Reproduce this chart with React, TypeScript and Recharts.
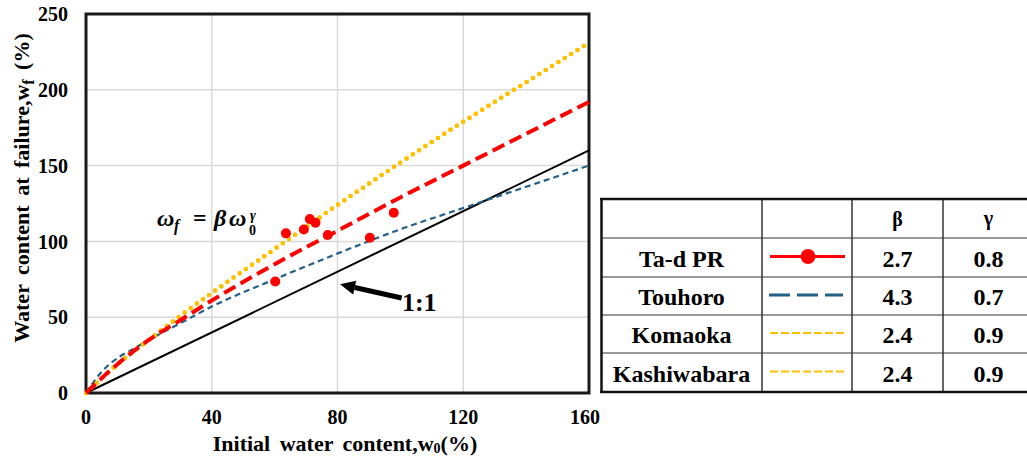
import React from "react"
import {
  ComposedChart,
  Line,
  Scatter,
  XAxis,
  YAxis,
  CartesianGrid,
  ReferenceArea,
  ReferenceLine,
  ReferenceDot,
} from "recharts"

const serif = '"Liberation Serif", "Times New Roman", serif'

const xTicks = [0, 40, 80, 120, 160]
const yTicks = [0, 50, 100, 150, 200, 250]

// measured points (Ta-d PR)
const tadX = [60.2, 63.6, 69.3, 71.2, 73.0, 76.9, 90.3, 97.9]
const tadY = [73.5, 105.3, 107.9, 114.7, 112.3, 104.2, 102.4, 118.9]

// fitted curves
const fitX = [0, 10, 20, 30, 40, 60, 80, 100, 120, 140, 160]
const tadFit = [0, 19, 35, 48, 61, 85, 107, 129, 150, 171, 192]
const komaokaFit = [0, 19, 35, 51, 66, 95, 124, 152, 179, 205, 231]
const kashiwabaraFit = [0, 19, 35, 51, 66, 95, 124, 152, 179, 205, 231]
const touhoroX = [0, 5, 10, 15, 20, 30, 40, 60, 80, 100, 120, 140, 160]
const touhoroFit = [0, 14, 23, 29, 35, 46, 57, 75, 92, 108, 122, 136, 150]
const oneX = [0, 160]
const oneY = [0, 160]

// table
const soilNames = ["Ta-d PR", "Touhoro", "Komaoka", "Kashiwabara"]
const betaValues = ["2.7", "4.3", "2.4", "2.4"]
const gammaValues = ["0.8", "0.7", "0.9", "0.9"]

const RED = "#ff0000"
const BLUE = "#245f88"
const YELLOW = "#ffc000"

const toPoints = (xs: number[], ys: number[]) => xs.map((x, i) => ({ x, y: ys[i] }))

function Arrow(props: any) {
  const { x1, y1, x2, y2 } = props
  const dx = x2 - x1
  const dy = y2 - y1
  const len = Math.hypot(dx, dy) || 1
  const ux = dx / len
  const uy = dy / len
  const head = 15
  const half = 7
  const bx = x2 - ux * head
  const by = y2 - uy * head
  return (
    <g>
      <line x1={x1} y1={y1} x2={bx} y2={by} stroke="#000" strokeWidth={5} />
      <polygon
        points={`${x2},${y2} ${bx - uy * half},${by + ux * half} ${bx + uy * half},${by - ux * half}`}
        fill="#000"
      />
    </g>
  )
}

function Formula(props: any) {
  const { cx, cy } = props
  return (
    <text x={cx} y={cy} fontFamily={serif} fontWeight="bold" fontStyle="italic" fontSize={24} fill="#000">
      <tspan x={cx}>ω</tspan>
      <tspan x={cx + 17} dy={5} fontSize={16}>f</tspan>
      <tspan x={cx + 36} dy={-5} fontStyle="normal">=</tspan>
      <tspan x={cx + 57}>β</tspan>
      <tspan x={cx + 72}>ω</tspan>
      <tspan x={cx + 92} dy={9} fontSize={14} fontStyle="normal">0</tspan>
      <tspan x={cx + 93} dy={-15} fontSize={14}>γ</tspan>
    </text>
  )
}

function OneToOne(props: any) {
  const { cx, cy } = props
  return (
    <text x={cx} y={cy} fontFamily={serif} fontWeight="bold" fontSize={26} fill="#000">
      1:1
    </text>
  )
}

function XTitle() {
  return (
    <text x={345} y={451} textAnchor="middle" fontFamily={serif} fontWeight="bold" fontSize={22} fill="#000" style={{ wordSpacing: 4 }}>
      Initial water content,w
      <tspan fontSize={14} dy={2}>0</tspan>
      <tspan dy={-2}>(%)</tspan>
    </text>
  )
}

function YTitle() {
  return (
    <text
      transform="translate(29,188) rotate(-90)"
      textAnchor="middle"
      fontFamily={serif}
      fontWeight="bold"
      fontSize={22}
      fill="#000"
      style={{ wordSpacing: 4 }}
    >
      Water content at failure,w
      <tspan fontSize={16} dy={5}>f</tspan>
      <tspan dy={-5}> (%)</tspan>
    </text>
  )
}

function Dot(props: any) {
  const { cx, cy } = props
  return <circle cx={cx} cy={cy} r={5} fill={RED} />
}

const colEdges = [601, 762, 852, 943, 1034]
const rowEdges = [199, 238, 277, 315, 353, 392]

function ParamTable() {
  const cx = colEdges.slice(0, 4).map((c, i) => (c + colEdges[i + 1]) / 2)
  const cy = rowEdges.slice(0, 5).map((r, i) => (r + rowEdges[i + 1]) / 2)
  const txt = { fontFamily: serif, fontWeight: "bold" as const, fontSize: 24, fill: "#000", textAnchor: "middle" as const }
  return (
    <svg width={1027} height={459} style={{ position: "absolute", left: 0, top: 0, pointerEvents: "none" }}>
      {rowEdges.slice(1, 5).map((y) => (
        <line key={y} x1={601} x2={1027} y1={y} y2={y} stroke="#777" strokeWidth={1.5} />
      ))}
      {colEdges.slice(1, 4).map((x) => (
        <line key={x} x1={x} x2={x} y1={199} y2={392} stroke="#333" strokeWidth={1.5} />
      ))}
      <line x1={601.5} x2={601.5} y1={198} y2={393} stroke="#111" strokeWidth={2.5} />
      <line x1={600} x2={1027} y1={199} y2={199} stroke="#111" strokeWidth={2.5} />
      <line x1={600} x2={1027} y1={392} y2={392} stroke="#111" strokeWidth={2.5} />

      <text x={cx[2]} y={cy[0] + 7} {...txt} fontSize={20}>β</text>
      <text x={cx[3]} y={cy[0] + 6} {...txt} fontSize={20}>γ</text>

      {soilNames.map((name, i) => (
        <g key={name}>
          <text x={cx[0]} y={cy[i + 1] + 9} {...txt}>{name}</text>
          <text x={cx[2]} y={cy[i + 1] + 9} {...txt}>{betaValues[i]}</text>
          <text x={cx[3]} y={cy[i + 1] + 9} {...txt}>{gammaValues[i]}</text>
        </g>
      ))}

      <line x1={770} x2={845} y1={cy[1] - 1} y2={cy[1] - 1} stroke={RED} strokeWidth={3} />
      <circle cx={808} cy={cy[1] - 1} r={7.5} fill={RED} />
      <line x1={769} x2={843} y1={cy[2] - 1} y2={cy[2] - 1} stroke={BLUE} strokeWidth={3} strokeDasharray="21 7" />
      <line x1={770} x2={844} y1={cy[3] - 1} y2={cy[3] - 1} stroke={YELLOW} strokeWidth={2} strokeDasharray="8 3" />
      <line x1={770} x2={844} y1={cy[4] - 1} y2={cy[4] - 1} stroke={YELLOW} strokeWidth={2} strokeDasharray="8 3" />
    </svg>
  )
}

export default function App() {
  const tick = { fill: "#000", fontSize: 20, fontWeight: "bold", fontFamily: serif }
  return (
    <div style={{ position: "relative", width: 1027, height: 459, overflow: "hidden", background: "#fff" }}>
      <style>{"html,body{margin:0;padding:0;overflow:hidden;background:#fff}"}</style>
      <ComposedChart width={600} height={459} margin={{ top: 14, right: 11, bottom: 0, left: 0 }}>
        <CartesianGrid stroke="#d9d9d9" strokeWidth={1.5} />
        <XAxis
          dataKey="x"
          type="number"
          domain={[0, 160]}
          ticks={xTicks}
          height={66}
          tick={tick}
          tickSize={0}
          tickMargin={17}
          axisLine={false}
          label={<XTitle />}
        />
        <YAxis
          dataKey="y"
          type="number"
          domain={[0, 250]}
          ticks={yTicks}
          width={86}
          tick={tick}
          tickSize={0}
          tickMargin={18}
          axisLine={false}
          label={<YTitle />}
        />
        <Line
          data={toPoints(oneX, oneY)}
          dataKey="y"
          type="linear"
          stroke="#000"
          strokeWidth={2}
          dot={false}
          activeDot={false}
          isAnimationActive={false}
        />
        <Line
          data={toPoints(touhoroX, touhoroFit)}
          dataKey="y"
          type="monotone"
          stroke={BLUE}
          strokeWidth={2.2}
          strokeDasharray="6 4"
          dot={false}
          activeDot={false}
          isAnimationActive={false}
        />
        <Line
          data={toPoints(fitX, kashiwabaraFit)}
          dataKey="y"
          type="monotone"
          stroke={YELLOW}
          strokeWidth={4.5}
          strokeDasharray="0 7.5"
          strokeLinecap="round"
          dot={false}
          activeDot={false}
          isAnimationActive={false}
        />
        <Line
          data={toPoints(fitX, komaokaFit)}
          dataKey="y"
          type="monotone"
          stroke={YELLOW}
          strokeWidth={4.5}
          strokeDasharray="0 7.5"
          strokeLinecap="round"
          dot={false}
          activeDot={false}
          isAnimationActive={false}
        />
        <Line
          data={toPoints(fitX, tadFit)}
          dataKey="y"
          type="monotone"
          stroke={RED}
          strokeWidth={4}
          strokeDasharray="13 6"
          dot={false}
          activeDot={false}
          isAnimationActive={false}
        />
        <Scatter data={toPoints(tadX, tadY)} shape={<Dot />} isAnimationActive={false} />
        <ReferenceArea x1={0} x2={160} y1={0} y2={250} fill="none" stroke="#1a1a1a" strokeWidth={3} />
        <ReferenceLine segment={[{ x: 100.4, y: 62.7 }, { x: 80.8, y: 71.7 }]} shape={Arrow} />
        <ReferenceDot x={22.6} y={110.2} shape={Formula} />
        <ReferenceDot x={100.5} y={54.3} shape={OneToOne} />
      </ComposedChart>
      <ParamTable />
    </div>
  )
}
